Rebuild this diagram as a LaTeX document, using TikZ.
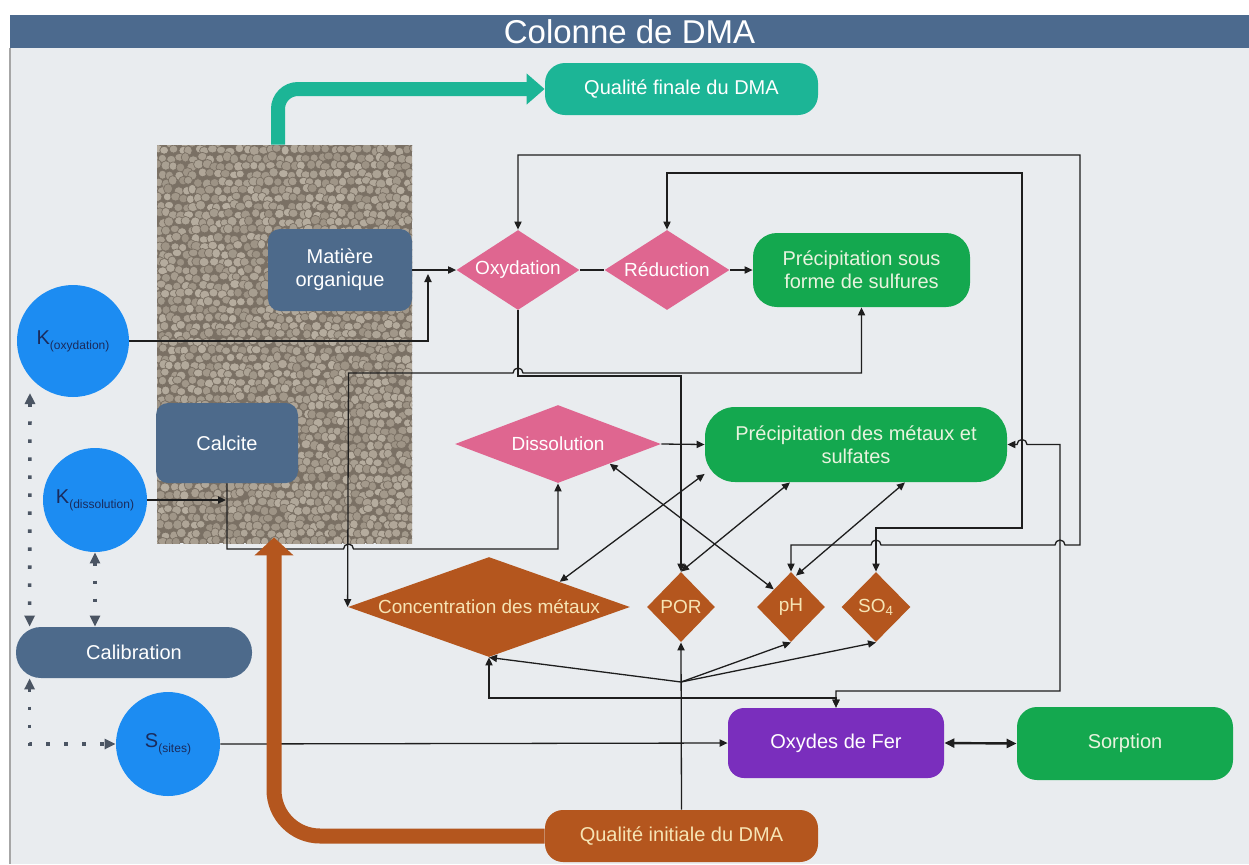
\documentclass[tikz,border=0pt]{standalone}
\usepackage{fontspec}
\setmainfont{Liberation Sans}
\usetikzlibrary{shapes.geometric,arrows.meta,calc}
\definecolor{bgC}{HTML}{E9ECEF}
\definecolor{titleC}{HTML}{4C6A8E}
\definecolor{slateC}{HTML}{4D6A8B}
\definecolor{pinkC}{HTML}{DF6690}
\definecolor{greenC}{HTML}{14A84F}
\definecolor{tealC}{HTML}{1CB596}
\definecolor{brownC}{HTML}{B4561E}
\definecolor{purpleC}{HTML}{7A2EBD}
\definecolor{blueC}{HTML}{1C8CF2}
\definecolor{lineC}{HTML}{1E1E1E}
\definecolor{dotC}{HTML}{4B5563}
\definecolor{creamC}{HTML}{F6E4B4}
\definecolor{gtextC}{HTML}{E8F3DE}
\definecolor{navyC}{HTML}{1A2B5C}
\definecolor{crackC}{HTML}{7A7064}
\definecolor{pebA}{HTML}{B8AFA1}
\definecolor{pebB}{HTML}{9C9284}
\begin{document}
\begin{tikzpicture}[x=0.5pt,y=-0.5pt,
  >={Triangle[length=4pt,width=3.6pt]},
  txt/.style={font=\fontsize{10}{11.5}\selectfont, align=center},
  box/.style={txt, inner sep=0pt, text=white},
  dia/.style={diamond, inner sep=0pt, aspect=1},
  dlab/.style={font=\fontsize{9.5}{11}\selectfont, text=white, inner sep=0pt},
  blab/.style={font=\fontsize{9.5}{11}\selectfont, text=creamC, inner sep=0pt},
  circ/.style={circle, inner sep=0pt, fill=blueC, text=navyC},
  conn/.style={draw=lineC, line width=0.65pt},
  dotc/.style={draw=dotC, line width=1.8pt, dash pattern=on 1.8pt off 7.2pt, {Triangle[length=5.5pt,width=5pt]}-{Triangle[length=5.5pt,width=5pt]}},
]
\useasboundingbox (0,0) rectangle (1249,864);
\fill[white] (0,0) rectangle (1249,864);
\fill[bgC] (10,48) rectangle (1249,864);
\draw[gray!70, line width=0.6pt] (10,48) -- (10,864);
\node[fill=titleC, minimum width=619.5pt, minimum height=16.5pt, inner sep=0pt, text=white, font=\fontsize{16.5}{18}\selectfont] (title) at (629.5,31.5) {Colonne de DMA};

% gravel column
\begin{scope}
  \clip (157,145) rectangle (412,543);
  \fill[crackC] (157,145) rectangle (412,543);
  \pgfmathsetseed{42}
  \foreach \j in {0,...,50}{
    \foreach \i in {0,...,32}{
      \pgfmathsetmacro{\cx}{154+\i*8+mod(\j,2)*4+rand*2}
      \pgfmathsetmacro{\cy}{142+\j*8+rand*2}
      \pgfmathsetmacro{\rx}{2.0+rnd*0.6}
      \pgfmathsetmacro{\ry}{1.9+rnd*0.6}
      \pgfmathsetmacro{\m}{int(rnd*100)}
      \filldraw[fill=pebA!\m!pebB, draw=crackC, line width=0.35pt] (\cx,\cy) ellipse[x radius=\rx pt, y radius=\ry pt];
    }
  }
\end{scope}
\node[inner sep=0pt, minimum width=127.5pt, minimum height=199pt] (col) at (284.5,344) {};

% nodes
\node[box, fill=tealC, minimum width=136.5pt, minimum height=26pt, rounded corners=10pt] (qfinal) at (681.5,89) {Qualité finale du DMA};
\node[box, fill=slateC, minimum width=72pt, minimum height=41pt, rounded corners=6pt] (matiere) at (340,270) {Matière\\organique};
\node[box, fill=slateC, minimum width=71pt, minimum height=40pt, rounded corners=6pt] (calcite) at (227,443) {Calcite};
\node[box, fill=slateC, minimum width=118pt, minimum height=25.5pt, rounded corners=12.5pt] (calib) at (134,652.5) {Calibration};
\node[circ, minimum size=56pt] (kox) at (73,341) {\fontsize{10}{11}\selectfont K\raisebox{-0.5ex}{\fontsize{6}{7}\selectfont (oxydation)}};
\node[circ, minimum size=52pt] (kdiss) at (95,500) {\fontsize{10}{11}\selectfont K\raisebox{-0.5ex}{\fontsize{6}{7}\selectfont (dissolution)}};
\node[circ, minimum size=52pt] (ssites) at (168,744) {\fontsize{10}{11}\selectfont S\raisebox{-0.5ex}{\fontsize{6}{7}\selectfont (sites)}};

\node[dia, fill=pinkC, minimum width=61.5pt, minimum height=40pt, label={[dlab]center:Oxydation}] (oxyd) at (518,270) {};
\node[dia, fill=pinkC, minimum width=62.5pt, minimum height=40pt, label={[dlab]center:Réduction}] (reduc) at (667,270) {};
\node[dia, fill=pinkC, minimum width=103pt, minimum height=39pt, label={[dlab]center:Dissolution}] (dissol) at (558,444) {};
\node[box, fill=greenC, text=gtextC, minimum width=108.5pt, minimum height=37pt, rounded corners=12pt] (sulf) at (861.5,270) {Précipitation sous\\forme de sulfures};
\node[box, fill=greenC, text=gtextC, minimum width=151pt, minimum height=37.5pt, rounded corners=15pt] (metaux) at (856,444.5) {Précipitation des métaux et\\sulfates};

\node[dia, fill=brownC, minimum width=141pt, minimum height=50pt, label={[blab]center:Concentration des métaux}] (conc) at (489,607) {};
\node[dia, fill=brownC, minimum width=34pt, minimum height=35pt, label={[blab]center:POR}] (por) at (681,607) {};
\node[dia, fill=brownC, minimum width=34pt, minimum height=35pt, label={[blab]center:pH}] (ph) at (791,607) {};
\node[dia, fill=brownC, minimum width=34.5pt, minimum height=35pt, label={[blab]center:SO\textsubscript{4}}] (so4) at (876,607) {};

\node[box, fill=purpleC, minimum width=108pt, minimum height=35pt, rounded corners=8pt] (oxydes) at (836,743) {Oxydes de Fer};
\node[box, fill=greenC, text=gtextC, minimum width=108pt, minimum height=36.5pt, rounded corners=10pt] (sorption) at (1125,743.5) {Sorption};
\node[box, fill=brownC, text=creamC, minimum width=136.5pt, minimum height=26pt, rounded corners=9pt] (qinit) at (681.5,836) {Qualité initiale du DMA};

% teal arrow
\draw[tealC, line width=7pt, rounded corners=10pt, -{Triangle[length=9pt,width=15pt]}] ($(col.north)+(-6.5,0)$) |- (qfinal.west);

% connectors
\draw[conn,->] (matiere.east) -- (oxyd.west);
\draw[conn,->] (kox.east) -| (428,274);
\draw[conn] (oxyd.east) -- (reduc.west);
\draw[conn,->] (reduc.east) -- (sulf.west);
\draw[conn,<->] (ph.north) -- (791,545) -- (871,545) arc[start angle=180,end angle=0,radius=2.5pt] -- (1055,545) arc[start angle=180,end angle=0,radius=2.5pt] -- (1080,545) -- (1080,155) -- (518,155) -- (oxyd.north);
\draw[conn,<->] (so4.north) -- (876,528) -- (1022,528) -- (1022,173) -- (667,173) -- (reduc.north);
\draw[conn,<->] (metaux.east) -- (1017,444.5) arc[start angle=180,end angle=0,radius=2.5pt] -- (1060,444.5) -- (1060,691) -- (836,691) -- (oxydes.north);
\draw[conn,<->] (conc.south) -- (489,698) -- (836,698) -- (oxydes.north);
\draw[conn,<->] (conc.west) -- (348.5,373) -- (513,373) arc[start angle=180,end angle=0,radius=2.5pt] -- (861.5,373) -- (sulf.south);
\draw[conn,->] (oxyd.south) -- (518,376) -- (681,376) -- (por.north);
\draw[conn,->] (calcite.south) -- (227,549) -- (343.5,549) arc[start angle=180,end angle=0,radius=2.5pt] -- (558,549) -- (dissol.south);
\draw[conn,->] (kdiss.east) -- (226,500);
\draw[conn,->] (dissol.east) -- (metaux.west);
\draw[conn,<->] (dissol.south east) -- (ph.north west);
\draw[conn,<->] (conc.north east) -- (metaux.191);
\draw[conn,<->] (por.north) -- ($(metaux.south)+(-66,0)$);
\draw[conn,<->] ($(ph.north)+(5,4)$) -- ($(metaux.south)+(49,0)$);
\coordinate (fan) at (681,682);
\draw[conn,->] (qinit.north) -- (por.south);
\draw[conn,->] (fan) -- (conc.south);
\draw[conn,->] (fan) -- (ph.south);
\draw[conn,->] (fan) -- (so4.south);
\draw[conn,->] (ssites.east) -- (oxydes.west);
\draw[draw=lineC, line width=1.2pt, {Triangle[length=5pt,width=4.5pt]}-{Triangle[length=5pt,width=4.5pt]}] (oxydes.east) -- (sorption.west);

% dotted calibration links
\coordinate (koxb) at (30,393);
\draw[dotc] (koxb) -- ($(calib.north west)+(14,0)$);
\draw[dotc] (kdiss.south) -- (calib.north -| kdiss.south);
\draw[dotc] ($(calib.south west)+(14,0)$) |- (ssites.west);

% brown arrow
\draw[brownC, line width=7.5pt, rounded corners=23pt, -{Triangle[length=9pt,width=19pt]}] (qinit.west) -| ($(col.south)+(-10.5,-6)$);
\end{tikzpicture}
\end{document}
